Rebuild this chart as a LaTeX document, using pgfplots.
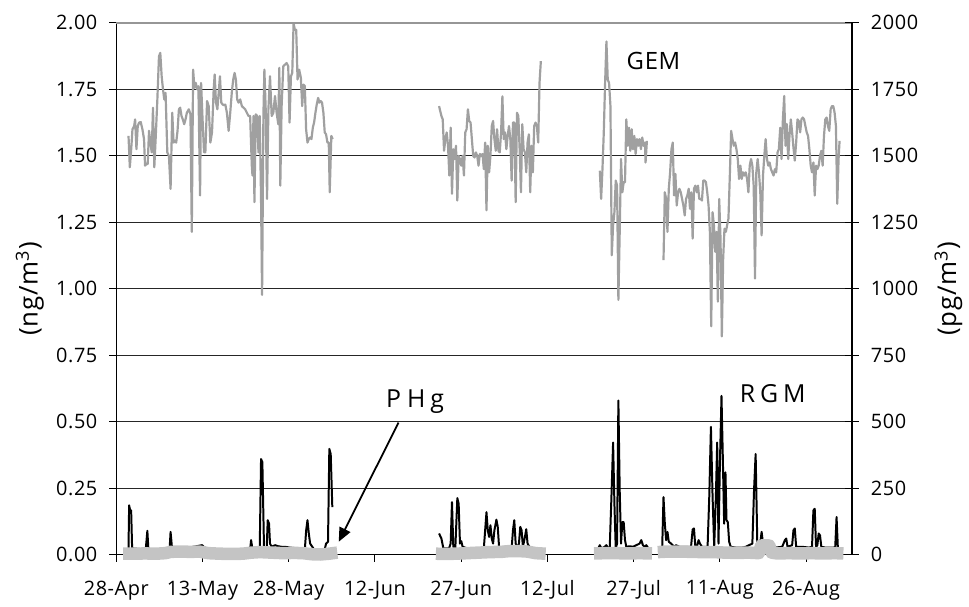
\documentclass[border=0pt]{standalone}
\usepackage{pgfplots}
\pgfplotsset{compat=1.18}
\usepackage{fontspec}
\setmainfont{Open Sans}[LetterSpace=3]
\usetikzlibrary{arrows.meta}
\definecolor{gemgray}{RGB}{160,160,160}
\definecolor{phggray}{RGB}{196,196,196}
\definecolor{topgray}{RGB}{150,150,150}

\begin{document}
\begin{tikzpicture}
\pgfplotsset{
  hgaxis/.style={
    scale only axis, width=370pt, height=267.5pt,
    xmin=0, xmax=128,
    /pgf/number format/assume math mode=true,
    tick label style={font=\fontsize{10pt}{12pt}\selectfont},
    label style={font=\fontsize{13pt}{15pt}\selectfont},
    axis line style={black, line width=0.6pt},
    tick style={black, line width=0.5pt},
  }
}
% left axis, ng/m3
\begin{axis}[hgaxis,
  ymin=0, ymax=2, clip=false,
  axis x line*=bottom, axis y line*=left,
  tick align=outside, major tick length=3.5pt,
  xtick={0,15,30,45,60,75,90,105,120},
  xticklabels={28-Apr,13-May,28-May,12-Jun,27-Jun,12-Jul,27-Jul,11-Aug,26-Aug},
  xticklabel style={yshift=-6pt},
  ytick={0,0.25,0.5,0.75,1,1.25,1.5,1.75,2},
  yticklabel style={xshift=-2.5pt, /pgf/number format/.cd, fixed, fixed zerofill, precision=2},
  ymajorgrids, major grid style={black!85, line width=0.5pt},
  ylabel={(ng/m\textsuperscript{3})},
  ylabel style={at={(axis description cs:-0.1176,0.5)}, anchor=center},
]
% GEM
\addplot[gemgray, line width=1.1pt, line join=round] coordinates {
(2.12,1.575)(2.35,1.457)(2.63,1.538)(2.81,1.600)(3.10,1.612)(3.27,1.637)(3.50,1.525)(3.73,1.612)(3.97,1.625)(4.25,1.627)
(4.54,1.600)(4.82,1.563)(5.00,1.463)(5.23,1.469)(5.46,1.469)(5.69,1.594)(5.93,1.550)(6.16,1.513)(6.38,1.681)(6.61,1.457)
(6.84,1.563)(7.14,1.712)(7.42,1.874)(7.65,1.887)(7.89,1.799)(8.12,1.750)(8.34,1.712)(8.57,1.737)(8.87,1.513)(9.15,1.500)
(9.44,1.376)(9.73,1.662)(9.96,1.550)(10.19,1.556)(10.42,1.550)(10.65,1.594)(10.89,1.675)(11.11,1.681)(11.34,1.650)(11.57,1.637)
(11.81,1.619)(12.04,1.637)(12.27,1.662)(12.61,1.675)(12.90,1.656)(13.13,1.214)(13.36,1.824)(13.59,1.756)(13.83,1.774)(14.06,1.750)
(14.28,1.762)(14.57,1.351)(14.75,1.774)(14.98,1.650)(15.26,1.513)(15.49,1.513)(15.79,1.706)(16.07,1.687)(16.36,1.550)(16.65,1.588)
(16.94,1.750)(17.11,1.806)(17.34,1.700)(17.58,1.675)(17.81,1.737)(18.03,1.799)(18.26,1.700)(18.50,1.693)(18.73,1.690)(18.96,1.693)
(19.24,1.662)(19.54,1.594)(19.82,1.662)(20.11,1.743)(20.34,1.787)(20.58,1.812)(20.80,1.787)(21.03,1.712)(21.26,1.700)(21.56,1.712)
(21.84,1.687)(22.13,1.681)(22.42,1.675)(22.71,1.662)(22.99,1.650)(23.28,1.650)(23.57,1.463)(23.69,1.426)(23.86,1.650)(24.03,1.326)
(24.26,1.656)(24.50,1.650)(24.73,1.513)(24.95,1.650)(25.18,1.338)(25.36,0.977)(25.59,1.650)(25.76,1.824)(25.99,1.675)(26.22,1.338)
(26.46,1.675)(26.74,1.799)(27.03,1.650)(27.32,1.662)(27.61,1.725)(27.89,1.662)(28.18,1.619)(28.36,1.831)(28.53,1.388)(28.76,1.687)
(29.05,1.837)(29.34,1.843)(29.63,1.849)(29.91,1.837)(30.14,1.625)(30.38,1.799)(30.61,1.812)(30.84,1.999)(31.06,1.974)(31.30,1.974)
(31.53,1.787)(31.82,1.824)(32.11,1.793)(32.34,1.687)(32.57,1.768)(32.80,1.762)(33.02,1.600)(33.26,1.550)(33.49,1.563)(33.72,1.569)
(33.95,1.563)(34.19,1.606)(34.41,1.625)(34.64,1.662)(34.87,1.693)(35.11,1.718)(35.34,1.700)(35.57,1.706)(35.79,1.700)(36.03,1.662)
(36.26,1.588)(36.49,1.581)(36.73,1.550)(36.96,1.550)(37.13,1.363)(37.41,1.575)(37.64,1.563)
};
\addplot[gemgray, line width=1.1pt, line join=round] coordinates {
(56.15,1.687)(56.56,1.650)(56.79,1.637)(57.02,1.519)(57.25,1.563)(57.48,1.588)(57.71,1.538)(57.94,1.426)(58.17,1.606)(58.40,1.357)
(58.63,1.525)(58.86,1.488)(59.10,1.538)(59.33,1.332)(59.56,1.500)(59.79,1.488)(60.02,1.463)(60.25,1.500)(60.48,1.426)(60.71,1.588)
(60.94,1.600)(61.17,1.675)(61.40,1.631)(61.63,1.625)(61.86,1.563)(62.09,1.500)(62.32,1.494)(62.56,1.513)(62.79,1.500)(63.02,1.463)
(63.25,1.507)(63.48,1.500)(63.71,1.507)(63.94,1.450)(64.17,1.550)(64.40,1.295)(64.63,1.538)(64.86,1.438)(65.09,1.500)(65.32,1.612)
(65.55,1.631)(65.78,1.563)(66.02,1.519)(66.25,1.600)(66.48,1.519)(66.71,1.513)(66.94,1.588)(67.17,1.724)(67.40,1.563)(67.63,1.588)
(67.86,1.525)(68.09,1.575)(68.32,1.612)(68.55,1.563)(68.78,1.407)(69.01,1.625)(69.24,1.625)(69.48,1.326)(69.71,1.662)(69.94,1.650)
(70.17,1.525)(70.40,1.363)(70.63,1.619)(70.86,1.525)(71.09,1.513)(71.32,1.438)(71.55,1.550)(71.78,1.581)(72.01,1.363)(72.24,1.538)
(72.47,1.438)(72.70,1.612)(72.94,1.625)(73.17,1.612)(73.40,1.550)(73.63,1.775)(73.86,1.856)
};
\addplot[gemgray, line width=1.1pt, line join=round] coordinates {
(84.12,1.444)(84.35,1.338)(84.58,1.450)(84.81,1.588)(85.04,1.774)(85.27,1.930)(85.50,1.787)(85.73,1.774)(85.97,1.687)(86.20,1.126)
(86.43,1.239)(86.66,1.288)(86.89,1.407)(87.12,1.388)(87.35,0.958)(87.58,1.214)(87.81,1.488)(88.04,1.363)(88.27,1.401)(88.50,1.401)
(88.73,1.637)(88.97,1.538)(89.20,1.606)(89.43,1.519)(89.66,1.600)(89.89,1.525)(90.12,1.575)(90.35,1.507)(90.58,1.563)(90.81,1.538)
(91.04,1.563)(91.27,1.525)(91.50,1.569)(91.74,1.538)(91.97,1.550)(92.08,1.475)(92.31,1.556)
};
\addplot[gemgray, line width=1.1pt, line join=round] coordinates {
(95.20,1.108)(95.43,1.363)(95.66,1.338)(95.89,1.214)(96.12,1.376)(96.35,1.438)(96.58,1.525)(96.81,1.550)(97.04,1.351)(97.27,1.432)
(97.50,1.313)(97.74,1.363)(97.97,1.376)(98.20,1.363)(98.43,1.338)(98.66,1.313)(98.89,1.276)(99.12,1.338)(99.35,1.351)(99.58,1.376)
(99.81,1.301)(100.04,1.363)(100.27,1.189)(100.50,1.376)(100.74,1.388)(100.97,1.363)(101.20,1.388)(101.43,1.338)(101.66,1.338)(101.89,1.332)
(102.12,1.407)(102.35,1.407)(102.58,1.401)(102.81,1.363)(103.04,1.313)(103.27,1.214)(103.50,0.859)(103.74,1.288)(103.97,1.239)(104.20,1.139)
(104.43,1.214)(104.66,0.952)(104.89,1.338)(105.12,1.189)(105.35,0.821)(105.58,1.114)(105.81,1.226)(106.04,1.214)(106.27,1.239)(106.50,1.264)
(106.74,1.426)(106.97,1.594)(107.20,1.563)(107.43,1.538)(107.66,1.550)(107.89,1.525)(108.12,1.488)(108.35,1.413)(108.58,1.463)(108.81,1.413)
(109.04,1.438)(109.27,1.426)(109.51,1.438)(109.74,1.413)(109.97,1.363)(110.20,1.463)(110.43,1.488)(110.66,1.463)(110.89,1.388)(111.12,1.039)
(111.35,1.438)(111.58,1.488)(111.81,1.438)(112.04,1.363)(112.27,1.201)(112.51,1.426)(112.74,1.500)(112.97,1.563)(113.20,1.488)(113.43,1.463)
(113.66,1.475)(113.89,1.450)(114.12,1.438)(114.35,1.426)(114.58,1.450)(114.81,1.438)(115.04,1.513)(115.27,1.525)(115.51,1.606)(115.74,1.488)
(115.97,1.637)(116.20,1.725)(116.43,1.538)(116.66,1.619)(116.89,1.488)(117.12,1.575)(117.35,1.637)(117.58,1.588)(117.81,1.531)(118.04,1.482)
(118.28,1.550)(118.51,1.637)(118.74,1.631)(118.97,1.588)(119.20,1.637)(119.43,1.644)(119.66,1.637)(119.89,1.612)(120.12,1.588)(120.35,1.575)
(120.58,1.525)(120.81,1.463)(121.04,1.438)(121.28,1.475)(121.51,1.351)(121.74,1.463)(121.97,1.450)(122.20,1.463)(122.43,1.500)(122.66,1.519)
(122.89,1.463)(123.12,1.575)(123.35,1.637)(123.58,1.644)(123.81,1.612)(124.04,1.594)(124.28,1.675)(124.51,1.687)(124.74,1.687)(124.97,1.662)
(125.20,1.612)(125.43,1.320)(125.66,1.488)(125.83,1.556)
};
% RGM
\addplot[black, line width=1pt, line join=round] coordinates {
(2.12,0.024)(2.23,0.186)(2.40,0.167)(2.58,0.167)(2.75,0.024)(5.12,0.02)(5.40,0.090)(5.58,0.02)(9.27,0.02)(9.44,0.086)
(9.67,0.030)(10.88,0.02)(14.92,0.036)(15.38,0.027)(16.07,0.02)(23.28,0.02)(23.45,0.055)(23.69,0.02)(24.95,0.02)(25.18,0.360)
(25.41,0.348)(25.70,0.02)(26.16,0.02)(26.34,0.130)(26.57,0.117)(26.74,0.042)(27.03,0.030)(27.61,0.036)(28.18,0.032)(28.76,0.030)
(29.34,0.030)(30.20,0.027)(31.64,0.024)(32.80,0.02)(33.03,0.092)(33.26,0.130)(33.49,0.080)(33.72,0.042)(34.41,0.02)(36.26,0.02)
(36.49,0.042)(36.83,0.049)(37.06,0.398)(37.30,0.379)(37.58,0.179)
};
\addplot[black, line width=1pt, line join=round] coordinates {
(56.15,0.080)(56.56,0.061)(56.90,0.024)(57.88,0.024)(58.17,0.042)(58.40,0.198)(58.63,0.030)(58.98,0.024)(59.33,0.213)(59.56,0.192)
(59.79,0.042)(60.02,0.051)(60.25,0.030)(61.05,0.024)(63.94,0.024)(64.17,0.092)(64.40,0.160)(64.63,0.092)(64.86,0.067)(65.09,0.111)
(65.32,0.061)(65.55,0.042)(65.78,0.092)(66.13,0.132)(66.36,0.105)(66.59,0.030)(67.17,0.027)(67.52,0.030)(67.75,0.024)(68.78,0.024)
(69.01,0.092)(69.24,0.130)(69.48,0.042)(69.82,0.024)(70.05,0.042)(70.28,0.105)(70.51,0.092)(70.74,0.030)(71.09,0.067)(71.32,0.096)
(71.55,0.042)(72.01,0.024)(72.59,0.024)
};
\addplot[black, line width=1pt, line join=round] coordinates {
(83.84,0.024)(84.12,0.036)(84.41,0.024)(84.99,0.030)(85.27,0.036)(85.56,0.024)(85.85,0.030)(86.14,0.217)(86.43,0.422)(86.66,0.192)
(86.89,0.024)(87.12,0.042)(87.35,0.580)(87.58,0.242)(87.81,0.042)(88.04,0.123)(88.27,0.123)(88.50,0.055)(88.73,0.030)(89.31,0.032)
(89.89,0.030)(90.47,0.036)(91.04,0.042)(91.33,0.055)(91.62,0.036)(91.91,0.030)(92.20,0.036)(92.49,0.027)
};
\addplot[black, line width=1pt, line join=round] coordinates {
(94.97,0.024)(95.20,0.217)(95.43,0.117)(95.66,0.055)(95.89,0.086)(96.12,0.049)(96.52,0.042)(97.10,0.030)(97.39,0.036)(97.97,0.030)
(99.99,0.030)(100.27,0.095)(100.50,0.099)(100.74,0.030)(101.08,0.036)(101.31,0.055)(101.54,0.042)(101.89,0.030)(102.87,0.030)(103.16,0.217)
(103.45,0.481)(103.74,0.217)(104.02,0.030)(104.31,0.217)(104.54,0.422)(104.77,0.042)(105.00,0.329)(105.29,0.597)(105.52,0.366)(105.75,0.117)
(105.98,0.310)(106.16,0.130)(106.39,0.123)(106.62,0.049)(106.90,0.030)(107.77,0.027)(108.93,0.027)(109.51,0.030)(110.66,0.042)(110.95,0.242)
(111.23,0.379)(111.52,0.042)(112.10,0.055)(112.27,0.086)(112.51,0.042)(113.26,0.030)(114.70,0.027)(115.85,0.030)(116.32,0.055)(116.55,0.061)
(116.78,0.030)(117.58,0.036)(117.81,0.092)(118.04,0.099)(118.28,0.030)(119.31,0.030)(120.47,0.027)(121.04,0.030)(121.28,0.167)(121.51,0.173)
(121.74,0.030)(121.97,0.036)(122.20,0.080)(122.43,0.073)(122.66,0.030)(123.35,0.027)(124.79,0.027)(125.08,0.030)(125.31,0.142)(125.54,0.024)
};
% PHg
\addplot[phggray, line width=6.3pt, line join=round] coordinates {
(1.2,0.004)(3,0.004)(5,0.005)(7,0.004)(8.5,0.006)(9.5,0.011)(11,0.012)(13,0.011)(14.5,0.012)(16,0.006)(18,0.004)(20,0.003)
(22,0.004)(23.5,0.008)(25,0.010)(27,0.008)(29,0.006)(31,0.007)(32.5,0.006)(34,0.002)(35.5,0.001)(37,0.004)(38.45,0.008)
};
\addplot[phggray, line width=6.3pt, line join=round] coordinates {
(55.6,0.004)(57,0.003)(59,0.004)(61,0.006)(63,0.008)(65,0.010)(67,0.011)(68.5,0.014)(70,0.014)(71.5,0.012)(73,0.006)(74.7,0.004)
};
\addplot[phggray, line width=6.3pt, line join=round] coordinates {
(83.1,0.005)(85,0.006)(87,0.006)(89,0.005)(91,0.006)(93.2,0.005)
};
\addplot[phggray, line width=6.3pt, line join=round] coordinates {
(94.2,0.010)(96,0.012)(98,0.012)(100,0.011)(102,0.010)(104,0.010)(106,0.008)(108,0.007)(110,0.008)(111.8,0.006)
(112.2,0.035)(113.6,0.035)(114.0,0.008)(115,0.005)(117,0.006)(119,0.005)(121,0.006)(123,0.005)(125,0.006)(126.5,0.005)
};
\draw[topgray, line width=1.2pt] (rel axis cs:0,1) -- (rel axis cs:1,1);
\node[anchor=base, font=\fontsize{12pt}{14pt}\selectfont] at (axis cs:93.46,1.824) {GEM};
\node[anchor=base, font=\fontsize{12.5pt}{14pt}\selectfont] at (axis cs:114.2,0.572) {R\kern2.5pt G\kern2.5pt M};
\node[anchor=base, font=\fontsize{12.5pt}{14pt}\selectfont] at (axis cs:51.97,0.553) {P\kern3pt H\kern2.5pt g};
\draw[black, line width=0.9pt, -{Triangle[length=7pt,width=6pt]}] (axis cs:49.1,0.497) -- (axis cs:38.7,0.049);
\end{axis}
% right axis, pg/m3
\begin{axis}[hgaxis,
  ymin=0, ymax=2000,
  axis x line=none, axis y line*=right,
  tick align=center, major tick length=7pt,
  ytick={0,250,500,750,1000,1250,1500,1750,2000},
  yticklabel style={xshift=2.5pt, /pgf/number format/1000 sep={}},
  ylabel={(pg/m\textsuperscript{3})},
  ylabel style={at={(axis description cs:1.131,0.5)}, anchor=center},
]
\addplot[draw=none] coordinates {(0,0)};
\end{axis}
\path (-58.5pt,-22.5pt) rectangle (426pt,279pt);
\end{tikzpicture}
\end{document}
